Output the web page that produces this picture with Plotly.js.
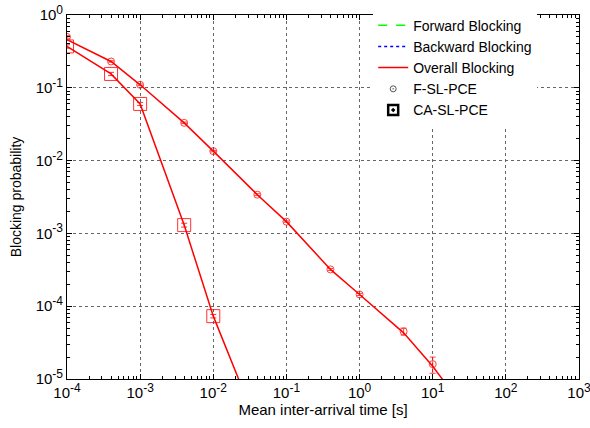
<!DOCTYPE html>
<html><head><meta charset="utf-8">
<script src="https://cdn.plot.ly/plotly-3.0.1.min.js"></script>
<style>body{margin:0;background:#fff}#chart{width:590px;height:428px}</style>
</head><body><div id="chart"></div>
<script>
// Data
const xF = [1e-4, 4e-4, 1e-3, 4e-3, 1e-2, 4e-2, 0.1, 0.4, 1, 4, 10];
const yF = [0.50, 0.23, 0.11, 0.033, 0.0135, 0.0034, 0.00145, 3.2e-4, 1.45e-4, 4.5e-5, 1.6e-5];
const errF = [0.02, 0.005, 0.003, 0.0008, 0.0003, 0.0001, 0.00003, 0.00001, 0.000005, 0.000005, 0.000004];
const xFline = [1e-4, 4e-4, 1e-3, 4e-3, 1e-2, 4e-2, 0.1, 0.4, 1, 4, 10, 40];
const yFline = [0.46, 0.23, 0.11, 0.033, 0.0135, 0.0034, 0.00145, 3.2e-4, 1.45e-4, 4.3e-5, 1.5e-5, 2.3e-6];
const xCA = [1e-4, 4e-4, 1e-3, 4e-3, 1e-2];
const yCA = [0.37, 0.155, 0.060, 1.3e-3, 7.3e-5];
const errCA = [0.02, 0.008, 0.003, 0.00008, 0.000004];
const xCAline = [1e-4, 4e-4, 1e-3, 4e-3, 1e-2, 4e-2];
const yCAline = [0.37, 0.155, 0.060, 1.3e-3, 7.3e-5, 2.3e-6];
const xTickVals = [1e-4, 1e-3, 1e-2, 1e-1, 1, 10, 100, 1000];
const xExponents = ['-4','-3','-2','-1','0','1','2','3'];
const yTickVals = [1e-5, 1e-4, 1e-3, 1e-2, 1e-1, 1];
const yExponents = ['-5','-4','-3','-2','-1','0'];

const supLabel = e => '10<sup><span style="font-size:12px">' + e + '</span></sup>';
const xTickText = xExponents.map(supLabel);
const yTickText = yExponents.map(supLabel);

const RED = '#ff0000';
const FONT = 'Liberation Sans, Arial, sans-serif';
const traces = [
  {x:[null], y:[null], mode:'lines', name:'Forward Blocking', line:{color:'#00ff00', dash:'dash', width:1.5}},
  {x:[null], y:[null], mode:'lines', name:'Backward Blocking', line:{color:'#0000ff', dash:'dot', width:1.5}},
  {x:xFline, y:yFline, mode:'lines', name:'Overall Blocking', line:{color:RED, width:1.5}},
  {x:xCAline, y:yCAline, mode:'lines', showlegend:false, line:{color:RED, width:1.5}},
  {x:xF, y:yF, mode:'markers', showlegend:false, opacity:0.75,
   marker:{symbol:'circle-open', size:7, color:RED, line:{width:1, color:RED}},
   error_y:{type:'data', array:errF, color:RED, thickness:1, width:3}},
  {x:xCA, y:yCA, mode:'markers', showlegend:false, opacity:0.8,
   marker:{symbol:'square-open', size:13, color:RED, line:{width:1, color:RED}},
   error_y:{type:'data', array:errCA, color:RED, thickness:1, width:3}},
  {x:[null], y:[null], mode:'markers', name:'F-SL-PCE',
   marker:{symbol:'circle-open-dot', size:6, color:'#555', line:{width:1, color:'#555'}}},
  {x:[null], y:[null], mode:'markers', name:'CA-SL-PCE',
   marker:{symbol:'square-open-dot', size:10, color:'#000', line:{width:2.5, color:'#000'}}}
];

const axisCommon = {
  type:'log', showline:true, linecolor:'#000', linewidth:1, mirror:'allticks',
  ticks:'inside', ticklen:5, tickcolor:'#000',
  showgrid:true, gridcolor:'#666', griddash:'dot', gridwidth:1,
  zeroline:false, tickmode:'array', ticklabeloverflow:'allow',
  minor:{ticks:'inside', ticklen:3, tickcolor:'#000', dtick:'D1', showgrid:false},
  tickfont:{family:FONT, size:15, color:'#000'}
};

const layout = {
  width:590, height:428,
  margin:{l:67, r:11, t:14, b:49},
  paper_bgcolor:'#fff', plot_bgcolor:'#fff',
  font:{family:FONT, size:14, color:'#000'},
  xaxis:Object.assign({}, axisCommon, {
    range:[-4, 3], tickvals:xTickVals, ticktext:xTickText,
    title:{text:'Mean inter-arrival time [s]', standoff:3, font:{size:15}}
  }),
  yaxis:Object.assign({}, axisCommon, {
    range:[-5, 0], tickvals:yTickVals, ticktext:yTickText,
    title:{text:'Blocking probability', standoff:10, font:{size:14}}
  }),
  legend:{x:0.598, y:1.012, xanchor:'left', yanchor:'top', bgcolor:'#fff', borderwidth:0,
    font:{size:14}, tracegroupgap:0},
  showlegend:true
};

Plotly.newPlot('chart', traces, layout, {displayModeBar:false, staticPlot:true});
</script>
</body></html>
